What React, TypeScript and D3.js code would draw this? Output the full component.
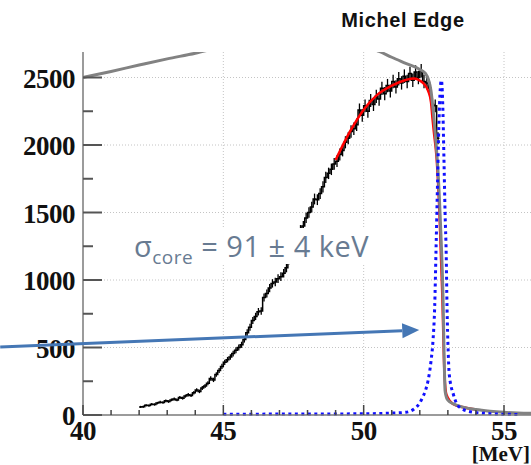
import * as d3 from 'd3';

// axis ticks
const yTicks = [0, 500, 1000, 1500, 2000, 2500];
const yMinorTicks = [250, 750, 1250, 1750, 2250];
const xTicks = [40, 45, 50, 55];
const xMinorTicks = [41, 42, 43, 44, 46, 47, 48, 49, 51, 52, 53, 54];
const yGrid = [500, 1000, 1500, 2000, 2500];
const xGrid = [45, 50, 55];

// measured histogram (0.1 MeV bins starting at 42.0 MeV)
const binStart = 42.0;
const binWidth = 0.1;
const counts = [
  60, 62, 72, 70, 80, 78, 88, 95, 92, 105,
  100, 112, 118, 112, 130, 125, 140, 150, 145, 165,
  185, 175, 200, 215, 235, 270, 260, 300, 330, 360,
  390, 410, 430, 455, 480, 500, 520, 560, 610, 650,
  700, 730, 765, 770, 870, 900, 940, 975, 985, 1010,
  1025, 1050, 1090, 1150, 1220, 1280, 1330, 1370, 1400, 1460,
  1500, 1540, 1600, 1595, 1640, 1690, 1760, 1790, 1820, 1860,
  1880, 1930, 1960, 2020, 2050, 2100, 2120, 2150, 2260, 2220,
  2290, 2250, 2330, 2300, 2360, 2340, 2420, 2380, 2440, 2400,
  2470, 2430, 2490, 2460, 2510, 2470, 2530, 2480, 2540, 2500,
  2550, 2470, 2460, 2420, 2300, 2290, 2050,
];

// fit (red)
const fitE = [49.0, 49.5, 50.0, 50.5, 51.0, 51.5, 51.8, 52.0, 52.2, 52.3, 52.4, 52.45, 52.5, 52.6, 52.7, 52.8, 52.88, 52.95, 53.2, 53.6, 54.0];
const fitN = [1889, 2095, 2262, 2375, 2440, 2482, 2493, 2478, 2440, 2400, 2316, 2200, 2100, 1900, 1500, 900, 300, 150, 80, 55, 40];

// smeared spectrum (gray)
const smearE = [40.0, 41.0, 42.0, 43.0, 44.0, 45.0, 46.5, 48.0, 49.5, 50.55, 51.0, 51.5, 52.0, 52.2, 52.3, 52.4, 52.45, 52.55, 52.65, 52.75, 52.83, 52.87, 52.9, 52.95, 53.0, 53.2, 53.5, 54.0, 54.5, 55.0, 55.5, 56.0];
const smearN = [2500, 2545, 2592, 2638, 2680, 2730, 2790, 2800, 2760, 2693, 2650, 2605, 2560, 2530, 2490, 2400, 2310, 2080, 1800, 1350, 850, 400, 180, 130, 110, 82, 60, 40, 28, 20, 15, 12];

// detector response (blue dotted)
const respE = [45.0, 46.0, 47.0, 48.0, 49.0, 50.0, 51.0, 51.5, 51.8, 52.0, 52.1, 52.2, 52.3, 52.4, 52.47, 52.53, 52.58, 52.63, 52.68, 52.73, 52.77, 52.81, 52.86, 52.9, 52.94, 52.97, 53.01, 53.05, 53.2, 53.4, 53.85, 54.5, 55.5];
const respN = [6, 6, 7, 7, 8, 9, 14, 20, 45, 90, 130, 180, 260, 400, 550, 800, 1240, 1700, 2150, 2420, 2480, 2350, 1900, 1500, 1200, 800, 480, 300, 150, 60, 22, 10, 4];

// annotation arrow (data coords)
const arrowFrom = { e: 37.05, n: 504 };
const arrowTo = { e: 51.98, n: 630 };

const W = 531;
const H = 465;

export default function App() {
  const x = d3.scaleLinear().domain([40, 55]).range([83, 504]);
  const y = d3.scaleLinear().domain([0, 2500]).range([415, 77.5]);
  const plotTop = 52;
  const plotRight = W;

  const histPts: [number, number][] = counts.map((c, i) => [binStart + i * binWidth, c]);
  histPts.push([binStart + counts.length * binWidth, counts[counts.length - 1]]);
  const stepLine = d3
    .line<[number, number]>()
    .x((d) => x(d[0]))
    .y((d) => y(d[1]))
    .curve(d3.curveStepAfter);

  const smooth = d3
    .line<[number, number]>()
    .x((d) => x(d[0]))
    .y((d) => y(d[1]))
    .curve(d3.curveMonotoneX);

  const fitPts = fitE.map((e, i) => [e, fitN[i]] as [number, number]);
  const smearPts = smearE.map((e, i) => [e, smearN[i]] as [number, number]);
  const respPts = respE.map((e, i) => [e, respN[i]] as [number, number]);

  // arrow geometry
  const ax0 = x(arrowFrom.e);
  const ay0 = y(arrowFrom.n);
  const ax1 = x(arrowTo.e);
  const ay1 = y(arrowTo.n);
  const ang = Math.atan2(ay1 - ay0, ax1 - ax0);
  const headLen = 17;
  const headHalf = 7.5;
  const bx = ax1 - headLen * Math.cos(ang);
  const by = ay1 - headLen * Math.sin(ang);
  const head = [
    [ax1, ay1],
    [bx - headHalf * Math.sin(ang), by + headHalf * Math.cos(ang)],
    [bx + headHalf * Math.sin(ang), by - headHalf * Math.cos(ang)],
  ]
    .map((p) => p.join(','))
    .join(' ');

  const serif = '"Liberation Serif", "Times New Roman", serif';

  return (
    <svg
      width={W}
      height={H}
      style={{ position: 'absolute', left: 0, top: 0, background: '#fff' }}
    >
      <defs>
        <clipPath id="plot">
          <rect x={x(40)} y={plotTop} width={plotRight - x(40)} height={y(0) - plotTop + 1} />
        </clipPath>
      </defs>

      {/* grid */}
      {yGrid.map((v) => (
        <line key={'gy' + v} x1={x(40)} x2={plotRight} y1={y(v)} y2={y(v)} stroke="#c4c4c4" strokeWidth={1} strokeDasharray="1 2" />
      ))}
      {xGrid.map((v) => (
        <line key={'gx' + v} x1={x(v)} x2={x(v)} y1={plotTop} y2={y(0)} stroke="#c4c4c4" strokeWidth={1} strokeDasharray="1 2" />
      ))}

      {/* title */}
      <text x={403} y={27} textAnchor="middle" fontFamily='"Liberation Sans", Arial, sans-serif' fontWeight="bold" fontSize={20} letterSpacing={0.6} fill="#111">
        Michel Edge
      </text>

      <g clipPath="url(#plot)">
        {/* measured histogram */}
        <path d={stepLine(histPts) || ''} fill="none" stroke="#000" strokeWidth={1.5} />
        {counts.map((c, i) => {
          const cx = x(binStart + (i + 0.5) * binWidth);
          const err = Math.sqrt(c);
          return <line key={'e' + i} x1={cx} x2={cx} y1={y(c - err)} y2={y(c + err)} stroke="#000" strokeWidth={1.3} />;
        })}
        {/* fit */}
        <path d={smooth(fitPts) || ''} fill="none" stroke="#ff0000" strokeWidth={2.5} />
        {/* smeared spectrum */}
        <path d={smooth(smearPts) || ''} fill="none" stroke="#828282" strokeWidth={3} />
        {/* response */}
        <path d={smooth(respPts) || ''} fill="none" stroke="#1010ff" strokeWidth={3} strokeDasharray="3 3.5" />
      </g>

      {/* axes */}
      <line x1={x(40)} x2={x(40)} y1={plotTop} y2={y(0)} stroke="#7a7a7a" strokeWidth={1.5} />
      <line x1={x(40)} x2={plotRight} y1={y(0)} y2={y(0)} stroke="#7a7a7a" strokeWidth={1.5} />
      {yTicks.map((v) => (
        <line key={'yt' + v} x1={x(40)} x2={x(40) + 19} y1={y(v)} y2={y(v)} stroke="#555" strokeWidth={2} />
      ))}
      {yMinorTicks.map((v) => (
        <line key={'ym' + v} x1={x(40)} x2={x(40) + 10} y1={y(v)} y2={y(v)} stroke="#555" strokeWidth={2} />
      ))}
      {xTicks.map((v) => (
        <line key={'xt' + v} x1={x(v)} x2={x(v)} y1={y(0)} y2={y(0) - 10} stroke="#444" strokeWidth={1.5} />
      ))}
      {xMinorTicks.map((v) => (
        <line key={'xm' + v} x1={x(v)} x2={x(v)} y1={y(0)} y2={y(0) - 5} stroke="#444" strokeWidth={1.5} />
      ))}

      {/* tick labels */}
      {yTicks.map((v) => (
        <text key={'yl' + v} x={75} y={y(v) + 10} textAnchor="end" fontFamily={serif} fontWeight="bold" fontSize={27} letterSpacing={-0.5} fill="#111">
          {v}
        </text>
      ))}
      {xTicks.map((v) => (
        <text key={'xl' + v} x={x(v)} y={440} textAnchor="middle" fontFamily={serif} fontWeight="bold" fontSize={27} letterSpacing={-0.5} fill="#111">
          {v}
        </text>
      ))}
      <text x={530} y={461} textAnchor="end" fontFamily={serif} fontWeight="bold" fontSize={21} fill="#111">
        [MeV]
      </text>

      {/* resolution annotation */}
      <rect x={128} y={228} width={246} height={36} fill="#fff" />
      <text x={134} y={257} fontFamily='"Open Sans", "Noto Sans", sans-serif' fontSize={29} letterSpacing={0.5} fill="#687b92">
        σ
        <tspan fontSize={19} dy={7}>core</tspan>
        <tspan dy={-7}> = 91 ± 4 keV</tspan>
      </text>

      {/* arrow */}
      <line x1={ax0} y1={ay0} x2={bx} y2={by} stroke="#4577b5" strokeWidth={3} />
      <polygon points={head} fill="#4577b5" />
    </svg>
  );
}
